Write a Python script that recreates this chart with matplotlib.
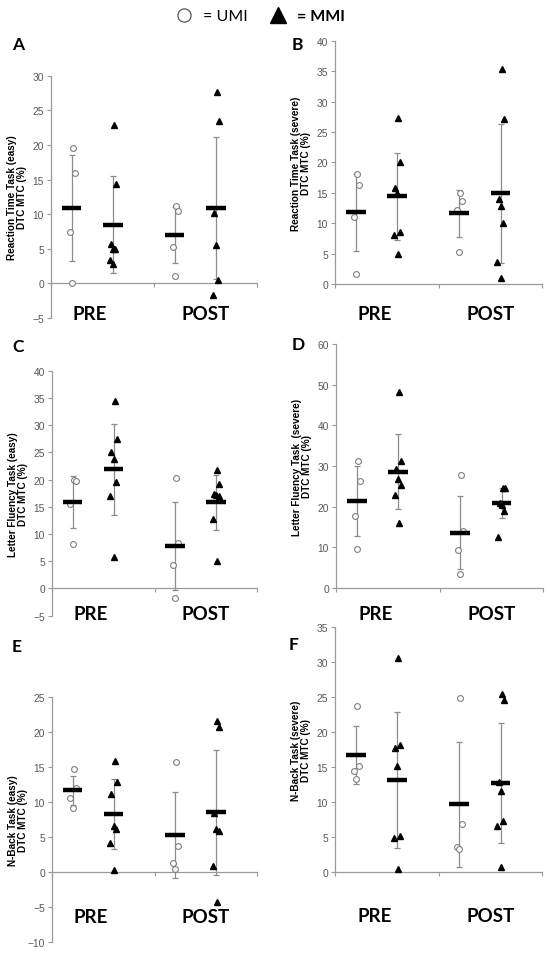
import numpy as np
import matplotlib.pyplot as plt
from matplotlib.lines import Line2D
from matplotlib.transforms import blended_transform_factory

plt.rcParams['font.family'] = ['Liberation Sans', 'DejaVu Sans']

# group order in each panel: PRE UMI, PRE MMI, POST UMI, POST MMI
panel_letters = ['A', 'B', 'C', 'D', 'E', 'F']
ylabels = ['Reaction Time Task (easy)\nDTC MTC (%)',
           'Reaction Time Task (severe)\nDTC MTC (%)',
           'Letter Fluency Task (easy)\nDTC MTC (%)',
           'Letter Fluency Task  (severe)\nDTC MTC (%)',
           'N-Back Task (easy)\nDTC MTC (%)',
           'N-Back Task (severe)\nDTC MTC (%)']
time_labels = ['PRE', 'POST']

# individual values
a_umi_pre = [19.6, 16.0, 7.4, 0.05]
a_mmi_pre = [22.9, 14.3, 5.7, 5.0, 4.9, 3.4, 2.8]
a_umi_post = [11.2, 10.4, 5.3, 1.1]
a_mmi_post = [27.6, 23.4, 10.2, 5.5, 0.5, -1.7]

b_umi_pre = [18.1, 16.2, 11.0, 1.7]
b_mmi_pre = [27.3, 20.1, 15.8, 14.9, 8.6, 8.0, 5.0]
b_umi_post = [15.0, 13.6, 12.2, 5.2]
b_mmi_post = [35.3, 27.1, 13.9, 12.8, 10.0, 3.6, 1.0]

c_umi_pre = [20.0, 19.7, 15.6, 8.2]
c_mmi_pre = [34.4, 27.4, 25.0, 23.8, 19.6, 16.9, 5.8]
c_umi_post = [20.3, 8.4, 4.3, -1.8]
c_mmi_post = [21.7, 19.2, 17.3, 17.1, 16.9, 12.7, 5.0]

d_umi_pre = [31.3, 26.4, 17.8, 9.7]
d_mmi_pre = [48.2, 31.2, 29.3, 26.7, 25.4, 22.9, 16.1]
d_umi_post = [27.8, 14.0, 9.3, 3.4]
d_mmi_post = [24.6, 24.6, 21.0, 20.3, 19.0, 12.6]

e_umi_pre = [14.7, 12.0, 10.6, 9.2]
e_mmi_pre = [15.9, 12.9, 11.1, 6.6, 6.2, 4.2, 0.3]
e_umi_post = [15.7, 3.7, 1.3, 0.4]
e_mmi_post = [21.6, 20.7, 8.5, 6.2, 5.9, 0.9, -4.3]

f_umi_pre = [23.7, 15.2, 14.5, 13.3]
f_mmi_pre = [30.6, 18.2, 17.7, 15.1, 5.1, 4.8, 0.5]
f_umi_post = [24.8, 6.8, 3.6, 3.3]
f_mmi_post = [25.4, 24.6, 12.9, 11.6, 7.3, 6.6, 0.7]

# group means and SD (error bars)
a_mean = [10.9, 8.5, 7.0, 10.9]
a_sd = [7.6, 6.95, 4.0, 10.25]
b_mean = [11.8, 14.4, 11.6, 14.9]
b_sd = [6.3, 7.2, 3.8, 11.4]
c_mean = [15.9, 21.9, 7.85, 15.8]
c_sd = [4.75, 8.35, 8.05, 5.1]
d_mean = [21.4, 28.6, 13.6, 20.9]
d_sd = [8.5, 9.25, 9.05, 3.8]
e_mean = [11.7, 8.25, 5.25, 8.55]
e_sd = [2.05, 5.0, 6.15, 8.9]
f_mean = [16.7, 13.2, 9.65, 12.75]
f_sd = [4.1, 9.7, 8.9, 8.6]

ylims = [(-5, 30), (0, 40), (-5, 40), (0, 60), (-10, 25), (0, 35)]
ysteps = [5, 5, 5, 10, 5, 5]

points = [
    [a_umi_pre, a_mmi_pre, a_umi_post, a_mmi_post],
    [b_umi_pre, b_mmi_pre, b_umi_post, b_mmi_post],
    [c_umi_pre, c_mmi_pre, c_umi_post, c_mmi_post],
    [d_umi_pre, d_mmi_pre, d_umi_post, d_mmi_post],
    [e_umi_pre, e_mmi_pre, e_umi_post, e_mmi_post],
    [f_umi_pre, f_mmi_pre, f_umi_post, f_mmi_post],
]
means = [a_mean, b_mean, c_mean, d_mean, e_mean, f_mean]
sds = [a_sd, b_sd, c_sd, d_sd, e_sd, f_sd]

W, H = 550, 954
# axes boxes in pixels: left, right, top, bottom
boxes = [(51, 257, 76.7, 319), (335, 542, 41.7, 285),
         (52, 257, 371.7, 616.7), (336, 543, 345, 589),
         (52, 257, 698.3, 943), (335, 542, 628, 873)]
letter_pos = [(12, 45), (292, 45), (12, 347), (292, 345), (12, 647), (289, 645)]
label_y = [315, 315, 615, 615, 918, 917]

group_x = [0.2, 0.6, 1.2, 1.6]
jitter = [0.01, 0.03, -0.02, 0.0, 0.025, -0.03, 0.005]
grey = '#8c8c8c'

fig = plt.figure(figsize=(W / 100, H / 100), dpi=100)

for i in range(6):
    l, r, t, b = boxes[i]
    ax = fig.add_axes([l / W, 1 - b / H, (r - l) / W, (b - t) / H])

    for g in range(4):
        vals = points[i][g]
        xs = [group_x[g] + jitter[k % len(jitter)] for k in range(len(vals))]
        ax.errorbar(group_x[g], means[i][g], yerr=sds[i][g], fmt='none',
                    ecolor=grey, elinewidth=0.9, capsize=2.5, capthick=0.9, zorder=2)
        if g % 2 == 0:
            ax.plot(xs, vals, 'o', ms=4.2, mfc='white', mec='#7f7f7f', mew=0.8,
                    linestyle='none', zorder=3, clip_on=False)
        else:
            ax.plot(xs, vals, '^', ms=4.3, mfc='black', mec='black',
                    linestyle='none', zorder=3, clip_on=False)
        ax.hlines(means[i][g], group_x[g] - 0.095, group_x[g] + 0.095,
                  color='black', lw=3.2, zorder=4)

    lo, hi = ylims[i]
    ax.set_xlim(0, 2)
    ax.set_ylim(lo, hi)
    ax.set_yticks(np.arange(lo, hi + 0.1, ysteps[i]))
    ax.set_xticks([0, 1, 2])
    ax.set_xticklabels([])
    ax.spines['top'].set_visible(False)
    ax.spines['right'].set_visible(False)
    ax.spines['bottom'].set_position(('data', 0))
    for s in ['left', 'bottom']:
        ax.spines[s].set_color('#9a9a9a')
        ax.spines[s].set_linewidth(0.9)
    ax.tick_params(axis='y', direction='out', length=3, width=0.8, color='#9a9a9a',
                   labelsize=7.4, labelcolor='#595959', pad=2)
    ax.tick_params(axis='x', direction='out', length=3, width=0.8, color='#9a9a9a')
    ax.set_facecolor('none')

    ax.set_ylabel(ylabels[i], fontsize=7.2, fontweight='bold', va='center',
                  linespacing=1.05)
    ax.yaxis.set_label_coords(-0.165, 0.5)

    trans = blended_transform_factory(ax.transData, fig.transFigure)
    for x, txt in zip([0.38, 1.5], time_labels):
        ax.text(x, 1 - label_y[i] / H, txt, transform=trans, ha='center', va='center',
                fontsize=13.5, fontweight='bold', family='Lato')

    lx, ly = letter_pos[i]
    fig.text(lx / W, 1 - ly / H, panel_letters[i], ha='left', va='center',
             fontsize=12.5, fontweight='bold', family='Lato')

handles = [Line2D([], [], marker='o', ls='none', ms=9.5, mfc='white', mec='#555555', mew=0.9),
           Line2D([], [], marker='^', ls='none', ms=11.5, mfc='black', mec='black')]
leg = fig.legend(handles, ['= UMI', '= MMI'], loc='center', bbox_to_anchor=(0.466, 0.982),
                 ncol=2, frameon=False, handletextpad=0.2, columnspacing=0.9,
                 prop={'family': 'Lato', 'size': 11.5})
leg.get_texts()[1].set_fontweight('bold')

fig.savefig('out.png', dpi=100)
